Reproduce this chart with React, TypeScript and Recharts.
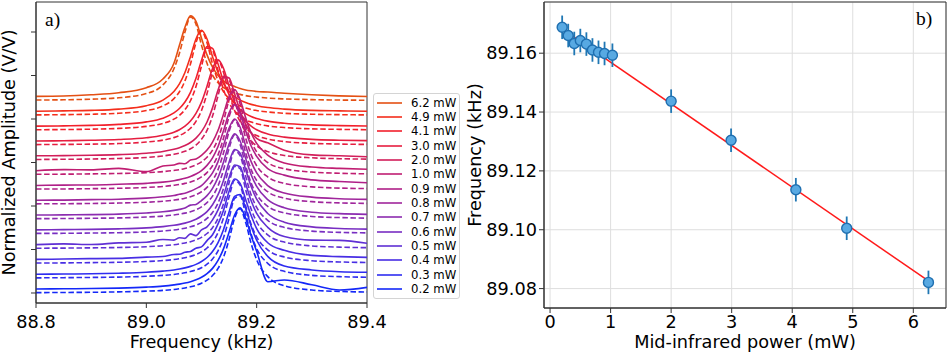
import {
  LineChart,
  Line,
  XAxis,
  YAxis,
  ComposedChart,
  Scatter,
  ErrorBar,
  CartesianGrid,
  ReferenceArea,
} from "recharts";

const FONT = '"DejaVu Sans", sans-serif';
const SERIF = '"Liberation Serif", "Times New Roman", serif';
const AXIS = "#333";

// ---- panel a) : spectra, shared frequency grid (kHz)
const freqGrid = [
  88.8, 88.85, 88.9, 88.95, 89.0, 89.03, 89.05, 89.06, 89.07, 89.08, 89.09, 89.1, 89.11, 89.12,
  89.13, 89.14, 89.15, 89.16, 89.17, 89.18, 89.19, 89.2, 89.22, 89.25, 89.3, 89.35, 89.4,
];

// measured (sig) and lorentzian fit (fit), amplitude above each trace's offset
const sig02 = [0.046, 0.048, 0.051, 0.056, 0.067, 0.079, 0.093, 0.102, 0.114, 0.13, 0.152, 0.181, 0.223, 0.283, 0.375, 0.51, 0.698, 0.897, 0.979, 0.862, 0.657, 0.479, 0.13, 0.15, 0.095, 0.035, 0.065];
const fit02 = [0.004, 0.006, 0.008, 0.013, 0.021, 0.03, 0.041, 0.049, 0.058, 0.071, 0.088, 0.113, 0.147, 0.201, 0.282, 0.413, 0.615, 0.858, 0.968, 0.813, 0.568, 0.382, 0.188, 0.084, 0.034, 0.018, 0.011];
const sig03 = [0.046, 0.048, 0.051, 0.057, 0.068, 0.081, 0.095, 0.106, 0.119, 0.136, 0.159, 0.192, 0.238, 0.307, 0.41, 0.561, 0.761, 0.941, 0.962, 0.802, 0.598, 0.436, 0.251, 0.14, 0.095, 0.075, 0.068];
const fit03 = [0.004, 0.006, 0.009, 0.013, 0.022, 0.032, 0.043, 0.051, 0.062, 0.076, 0.095, 0.121, 0.161, 0.221, 0.315, 0.466, 0.688, 0.918, 0.946, 0.738, 0.504, 0.34, 0.171, 0.079, 0.033, 0.018, 0.011];
const sig04 = [0.046, 0.05, 0.055, 0.058, 0.072, 0.08, 0.102, 0.106, 0.128, 0.138, 0.175, 0.19, 0.262, 0.33, 0.455, 0.612, 0.83, 0.97, 0.92, 0.735, 0.55, 0.4, 0.238, 0.15, 0.092, 0.078, 0.07];
const fit04 = [0.005, 0.006, 0.009, 0.013, 0.022, 0.033, 0.045, 0.054, 0.065, 0.081, 0.102, 0.132, 0.177, 0.245, 0.354, 0.526, 0.763, 0.956, 0.899, 0.663, 0.448, 0.304, 0.156, 0.074, 0.031, 0.017, 0.011];
const sig05 = [0.046, 0.055, 0.047, 0.066, 0.074, 0.105, 0.098, 0.125, 0.118, 0.17, 0.15, 0.215, 0.25, 0.33, 0.445, 0.61, 0.815, 0.962, 0.941, 0.75, 0.55, 0.405, 0.245, 0.14, 0.098, 0.095, 0.062];
const fit05 = [0.005, 0.006, 0.009, 0.013, 0.022, 0.033, 0.045, 0.054, 0.065, 0.08, 0.101, 0.13, 0.174, 0.241, 0.349, 0.52, 0.757, 0.946, 0.918, 0.68, 0.455, 0.309, 0.158, 0.075, 0.031, 0.017, 0.011];
const sig06 = [0.046, 0.048, 0.051, 0.057, 0.069, 0.083, 0.098, 0.109, 0.123, 0.142, 0.168, 0.205, 0.256, 0.334, 0.45, 0.617, 0.823, 0.97, 0.928, 0.739, 0.544, 0.398, 0.234, 0.134, 0.08, 0.062, 0.054];
const fit06 = [0.005, 0.006, 0.009, 0.013, 0.022, 0.033, 0.045, 0.054, 0.065, 0.081, 0.102, 0.132, 0.177, 0.245, 0.354, 0.526, 0.763, 0.956, 0.899, 0.663, 0.448, 0.304, 0.156, 0.074, 0.031, 0.017, 0.011];
const sig07 = [0.046, 0.048, 0.051, 0.057, 0.07, 0.084, 0.1, 0.111, 0.126, 0.16, 0.168, 0.213, 0.269, 0.353, 0.479, 0.657, 0.862, 0.979, 0.897, 0.698, 0.51, 0.375, 0.223, 0.13, 0.079, 0.062, 0.054];
const fit07 = [0.005, 0.006, 0.009, 0.013, 0.023, 0.034, 0.047, 0.056, 0.068, 0.084, 0.107, 0.14, 0.188, 0.263, 0.382, 0.568, 0.813, 0.968, 0.858, 0.615, 0.413, 0.282, 0.147, 0.071, 0.03, 0.017, 0.01];
const sig08 = [0.046, 0.048, 0.053, 0.058, 0.071, 0.086, 0.1, 0.115, 0.126, 0.15, 0.18, 0.215, 0.28, 0.36, 0.49, 0.68, 0.875, 0.98, 0.885, 0.672, 0.49, 0.36, 0.215, 0.13, 0.082, 0.064, 0.056];
const fit08 = [0.005, 0.006, 0.009, 0.014, 0.023, 0.035, 0.048, 0.057, 0.07, 0.086, 0.11, 0.144, 0.194, 0.273, 0.398, 0.592, 0.836, 0.97, 0.836, 0.592, 0.398, 0.273, 0.144, 0.07, 0.03, 0.016, 0.01];
const sig09 = [0.046, 0.05, 0.052, 0.06, 0.07, 0.084, 0.101, 0.113, 0.128, 0.149, 0.177, 0.218, 0.277, 0.364, 0.494, 0.677, 0.88, 0.98, 0.88, 0.677, 0.5, 0.38, 0.24, 0.165, 0.11, 0.092, 0.078];
const fit09 = [0.005, 0.006, 0.009, 0.014, 0.023, 0.035, 0.048, 0.057, 0.07, 0.086, 0.11, 0.144, 0.194, 0.273, 0.398, 0.592, 0.836, 0.97, 0.836, 0.592, 0.398, 0.273, 0.144, 0.07, 0.03, 0.016, 0.01];
const sig10 = [0.046, 0.058, 0.055, 0.072, 0.035, 0.1, 0.112, 0.13, 0.126, 0.168, 0.181, 0.223, 0.283, 0.375, 0.51, 0.698, 0.897, 0.979, 0.862, 0.657, 0.479, 0.36, 0.225, 0.135, 0.088, 0.072, 0.062];
const fit10 = [0.005, 0.006, 0.009, 0.014, 0.023, 0.035, 0.049, 0.058, 0.071, 0.088, 0.113, 0.147, 0.201, 0.282, 0.413, 0.615, 0.858, 0.968, 0.813, 0.568, 0.382, 0.263, 0.14, 0.068, 0.03, 0.016, 0.01];
const sig20 = [0.047, 0.049, 0.053, 0.061, 0.077, 0.097, 0.122, 0.14, 0.165, 0.2, 0.251, 0.325, 0.436, 0.598, 0.802, 0.962, 0.941, 0.761, 0.561, 0.41, 0.312, 0.248, 0.196, 0.112, 0.058, 0.047, 0.036];
const fit20 = [0.005, 0.007, 0.01, 0.016, 0.028, 0.045, 0.064, 0.079, 0.099, 0.128, 0.171, 0.237, 0.34, 0.504, 0.738, 0.946, 0.918, 0.688, 0.466, 0.315, 0.221, 0.161, 0.095, 0.051, 0.024, 0.014, 0.009];
const sig30 = [0.047, 0.05, 0.055, 0.064, 0.084, 0.113, 0.149, 0.177, 0.218, 0.277, 0.364, 0.494, 0.677, 0.88, 0.98, 0.88, 0.677, 0.494, 0.364, 0.277, 0.218, 0.177, 0.128, 0.092, 0.066, 0.056, 0.051];
const fit30 = [0.006, 0.008, 0.011, 0.018, 0.035, 0.057, 0.086, 0.11, 0.144, 0.194, 0.273, 0.398, 0.592, 0.836, 0.97, 0.836, 0.592, 0.398, 0.273, 0.194, 0.144, 0.11, 0.07, 0.041, 0.02, 0.012, 0.008];
const sig41 = [0.048, 0.051, 0.057, 0.068, 0.097, 0.14, 0.2, 0.251, 0.325, 0.436, 0.598, 0.802, 0.962, 0.941, 0.761, 0.561, 0.41, 0.307, 0.238, 0.192, 0.159, 0.136, 0.106, 0.081, 0.062, 0.054, 0.05];
const fit41 = [0.006, 0.009, 0.013, 0.022, 0.045, 0.079, 0.128, 0.171, 0.237, 0.34, 0.504, 0.738, 0.946, 0.918, 0.688, 0.466, 0.315, 0.221, 0.161, 0.121, 0.095, 0.076, 0.051, 0.032, 0.017, 0.011, 0.007];
const sig49 = [0.049, 0.053, 0.059, 0.074, 0.113, 0.177, 0.277, 0.364, 0.494, 0.677, 0.88, 0.98, 0.88, 0.677, 0.494, 0.364, 0.277, 0.218, 0.177, 0.149, 0.128, 0.113, 0.092, 0.074, 0.059, 0.053, 0.049];
const fit49 = [0.007, 0.01, 0.015, 0.026, 0.057, 0.11, 0.194, 0.273, 0.398, 0.592, 0.836, 0.97, 0.836, 0.592, 0.398, 0.273, 0.194, 0.144, 0.11, 0.086, 0.07, 0.057, 0.041, 0.026, 0.015, 0.01, 0.007];
const sig62 = [0.05, 0.054, 0.068, 0.092, 0.15, 0.25, 0.43, 0.637, 0.843, 0.975, 0.913, 0.719, 0.527, 0.386, 0.291, 0.228, 0.185, 0.165, 0.14, 0.124, 0.114, 0.107, 0.1, 0.086, 0.068, 0.056, 0.048];
const fit62 = [0.008, 0.011, 0.018, 0.034, 0.082, 0.182, 0.368, 0.547, 0.789, 0.964, 0.88, 0.639, 0.431, 0.293, 0.207, 0.152, 0.115, 0.09, 0.073, 0.059, 0.049, 0.042, 0.031, 0.021, 0.013, 0.008, 0.006];

const powerLabels = ["0.2", "0.3", "0.4", "0.5", "0.6", "0.7", "0.8", "0.9", "1.0", "2.0", "3.0", "4.1", "4.9", "6.2"];
const measured = [sig02, sig03, sig04, sig05, sig06, sig07, sig08, sig09, sig10, sig20, sig30, sig41, sig49, sig62];
const fitted = [fit02, fit03, fit04, fit05, fit06, fit07, fit08, fit09, fit10, fit20, fit30, fit41, fit49, fit62];
const traceColors = [
  "#1428f8", "#2e2cf0", "#482ee4", "#6030d4", "#782ec2", "#8c2cb0", "#a0269c",
  "#b02088", "#c01e72", "#d21e5a", "#e61e40", "#f2202c", "#f42e1c", "#e45014",
];
const OFFSET_STEP = 0.17; // waterfall offset between traces
const ampTicks = [0, 0.5, 1, 1.5, 2, 2.5, 3];
const freqTicks = [88.8, 89.0, 89.2, 89.4];

// ---- panel b) : peak frequency vs power
const powerMW = [0.2, 0.3, 0.4, 0.5, 0.6, 0.7, 0.8, 0.9, 1.03, 2.0, 2.99, 4.06, 4.9, 6.25];
const peakFreq = [89.1688, 89.166, 89.1633, 89.1643, 89.1631, 89.1611, 89.1603, 89.1599, 89.1593, 89.1437, 89.1304, 89.1136, 89.1005, 89.0821];
const peakErr = [0.004, 0.004, 0.004, 0.004, 0.004, 0.004, 0.004, 0.004, 0.004, 0.004, 0.004, 0.004, 0.004, 0.004];
const fitPower = [0.2, 6.25];
const fitFreq = [89.1683, 89.0826];
const powerTicks = [0, 1, 2, 3, 4, 5, 6];
const freqTicksB = [89.08, 89.1, 89.12, 89.14, 89.16];

const spectraRows = freqGrid.map((f, k) => {
  const row: Record<string, number> = { f };
  measured.forEach((m, i) => {
    row[`s${i}`] = i * OFFSET_STEP + m[k];
    row[`d${i}`] = i * OFFSET_STEP + fitted[i][k];
  });
  return row;
});

const points = powerMW.map((x, i) => ({ x, y: peakFreq[i], err: peakErr[i] }));
const fitLine = fitPower.map((x, i) => ({ x, y: fitFreq[i] }));

const tickStyle = { fill: "#000", fontSize: 17.7, fontFamily: FONT };
const labelStyle = { fill: "#000", fontSize: 17.7, fontFamily: FONT };

// draw high power first so blue ends on top (legend order too)
const drawOrder = powerLabels.map((_, i) => powerLabels.length - 1 - i);

function SpectraLegend() {
  return (
    <div
      style={{
        position: "absolute",
        left: 373,
        top: 93,
        width: 87,
        height: 206,
        boxSizing: "border-box",
        border: "1px solid #d4d4d4",
        borderRadius: 3,
        background: "rgba(255,255,255,0.85)",
      }}
    >
      {drawOrder.map((i, k) => (
        <div
          key={i}
          style={{
            position: "absolute",
            left: 3,
            top: 1.5 + k * 14.33,
            height: 14.33,
            display: "flex",
            alignItems: "center",
            whiteSpace: "nowrap",
          }}
        >
          <svg width={25} height={4} style={{ display: "block" }}>
            <line x1={0} y1={2} x2={25} y2={2} stroke={traceColors[i]} strokeWidth={1.6} />
          </svg>
          <span style={{ marginLeft: 9, fontSize: 11.7, fontFamily: FONT, lineHeight: "14px", color: "#000" }}>
            {powerLabels[i]} mW
          </span>
        </div>
      ))}
    </div>
  );
}

export default function App() {
  return (
    <div style={{ position: "absolute", left: 0, top: 0, width: 947, height: 353, overflow: "hidden", background: "#fff" }}>
      <div style={{ position: "absolute", left: 0, top: 0 }}>
        <LineChart width={400} height={353} data={spectraRows} margin={{ top: 2, right: 33, bottom: 0, left: 0 }}>
          <XAxis
            type="number"
            dataKey="f"
            domain={[88.8, 89.4]}
            ticks={freqTicks}
            allowDataOverflow
            height={50}
            tickSize={5}
            tickMargin={7}
            tick={tickStyle}
            tickFormatter={(v: number) => v.toFixed(1)}
            axisLine={{ stroke: AXIS }}
            tickLine={{ stroke: AXIS }}
            label={{ value: "Frequency (kHz)", position: "insideBottom", offset: 5, ...labelStyle }}
          />
          <YAxis
            type="number"
            domain={[-0.115, 3.345]}
            ticks={ampTicks}
            allowDataOverflow
            width={36}
            tickSize={5}
            tickFormatter={() => ""}
            axisLine={{ stroke: AXIS }}
            tickLine={{ stroke: AXIS }}
            label={{
              value: "Normalized Amplitude (V/V)",
              angle: -90,
              position: "insideLeft",
              offset: 9,
              ...labelStyle,
              style: { textAnchor: "middle" },
            }}
          />
          {drawOrder.flatMap((i) => [
            <Line
              key={`s${i}`}
              dataKey={`s${i}`}
              type="monotone"
              stroke={traceColors[i]}
              strokeWidth={1.6}
              dot={false}
              activeDot={false}
              isAnimationActive={false}
            />,
            <Line
              key={`d${i}`}
              dataKey={`d${i}`}
              type="monotone"
              stroke={traceColors[i]}
              strokeWidth={1.6}
              strokeDasharray="5.5 2.6"
              dot={false}
              activeDot={false}
              isAnimationActive={false}
            />,
          ])}
          <ReferenceArea x1={88.8} x2={89.4} y1={-0.115} y2={3.345} fill="none" stroke={AXIS} strokeWidth={1} />
        </LineChart>
      </div>

      <SpectraLegend />

      <div style={{ position: "absolute", left: 460, top: 0 }}>
        <ComposedChart width={487} height={353} margin={{ top: 2, right: 1, bottom: 0, left: 0 }}>
          <CartesianGrid stroke="#dedede" />
          <XAxis
            type="number"
            dataKey="x"
            domain={[-0.1, 6.54]}
            ticks={powerTicks}
            allowDataOverflow
            height={45}
            tickSize={5}
            tickMargin={2}
            tick={tickStyle}
            axisLine={{ stroke: AXIS }}
            tickLine={{ stroke: AXIS }}
            label={{ value: "Mid-infrared power (mW)", position: "insideBottom", offset: 5, ...labelStyle }}
          />
          <YAxis
            type="number"
            domain={[89.0734, 89.1774]}
            ticks={freqTicksB}
            allowDataOverflow
            width={84}
            tickSize={5}
            tick={tickStyle}
            tickFormatter={(v: number) => v.toFixed(2)}
            axisLine={{ stroke: AXIS }}
            tickLine={{ stroke: AXIS }}
            label={{
              value: "Frequency (kHz)",
              angle: -90,
              position: "insideLeft",
              offset: 14.5,
              ...labelStyle,
              style: { textAnchor: "middle" },
            }}
          />
          <Line
            data={fitLine}
            dataKey="y"
            type="linear"
            stroke="#ff1a1a"
            strokeWidth={1.5}
            dot={false}
            activeDot={false}
            isAnimationActive={false}
          />
          <Scatter
            data={points}
            dataKey="y"
            isAnimationActive={false}
            shape={(p: any) => <circle cx={p.cx} cy={p.cy} r={5} fill="#58a9e2" stroke="#1f6fb0" strokeWidth={1.4} />}
          >
            <ErrorBar dataKey="err" direction="y" width={0} stroke="#1f77b4" strokeWidth={1.8} />
          </Scatter>
          <ReferenceArea x1={-0.1} x2={6.54} y1={89.0734} y2={89.1774} fill="none" stroke={AXIS} strokeWidth={1} />
        </ComposedChart>
      </div>

      <svg width={947} height={353} style={{ position: "absolute", left: 0, top: 0, pointerEvents: "none" }}>
        <text x={45} y={25.5} fontFamily={SERIF} fontSize={19.5} fill="#000">a)</text>
        <text x={916} y={25} fontFamily={SERIF} fontSize={19.5} fill="#000">b)</text>
      </svg>
    </div>
  );
}
